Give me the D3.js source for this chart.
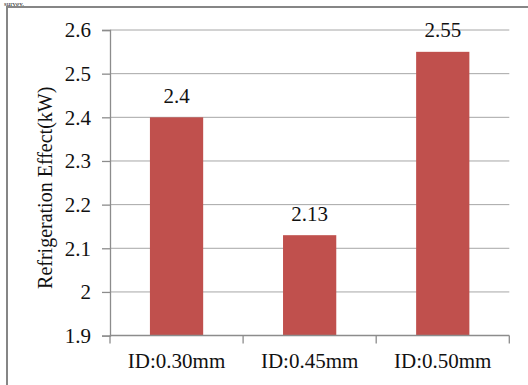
<!DOCTYPE html>
<html>
<head>
<meta charset="utf-8">
<script src="https://cdn.jsdelivr.net/npm/d3@7"></script>
<style>
  html, body { margin: 0; padding: 0; background: #fff; }
  svg { display: block; }
</style>
</head>
<body>
<script>
// Chart data
const categories = ["ID:0.30mm", "ID:0.45mm", "ID:0.50mm"];
const refrigerationEffect = [2.4, 2.13, 2.55];
const valueLabels = ["2.4", "2.13", "2.55"];
const yTicks = [1.9, 2, 2.1, 2.2, 2.3, 2.4, 2.5, 2.6];
const yAxisTitle = "Refrigeration Effect(kW)";

const SERIF = "'Liberation Serif', Tinos, 'Times New Roman', 'DejaVu Serif', serif";
const W = 528, H = 385;
const plot = { left: 110, right: 509.3, top: 30, bottom: 335.6 };

const svg = d3.select("body").append("svg")
  .attr("width", W).attr("height", H)
  .attr("font-family", SERIF)
  .style("font-family", SERIF);

// Trailing line of surrounding text above the frame
svg.append("text")
  .attr("x", 4).attr("y", 5.5)
  .attr("font-family", SERIF)
  .style("font-size", "7px")
  .attr("fill", "#222")
  .text("survey.");

// Chart frame
svg.append("rect")
  .attr("x", 7).attr("y", 7)
  .attr("width", W + 10).attr("height", H + 10)
  .attr("fill", "none")
  .attr("stroke", "#868686")
  .attr("stroke-width", 2);

const x = d3.scaleBand()
  .domain(categories)
  .range([plot.left, plot.right])
  .paddingInner(0.6)
  .paddingOuter(0.3);

const y = d3.scaleLinear()
  .domain([1.9, 2.6])
  .range([plot.bottom, plot.top]);

// Horizontal gridlines
svg.append("g")
  .selectAll("line")
  .data(yTicks.filter(t => t > 1.9))
  .join("line")
  .attr("x1", plot.left).attr("x2", plot.right)
  .attr("y1", d => y(d)).attr("y2", d => y(d))
  .attr("stroke", "#a6a6a6")
  .attr("stroke-width", 1);

// Bars
svg.append("g")
  .selectAll("rect")
  .data(refrigerationEffect)
  .join("rect")
  .attr("x", (d, i) => x(categories[i]))
  .attr("width", x.bandwidth())
  .attr("y", d => y(d))
  .attr("height", d => y(1.9) - y(d))
  .attr("fill", "#c0504d");

// Value labels
svg.append("g")
  .selectAll("text")
  .data(refrigerationEffect)
  .join("text")
  .attr("x", (d, i) => x(categories[i]) + x.bandwidth() / 2)
  .attr("y", d => y(d) - 14.5)
  .attr("text-anchor", "middle")
  .attr("font-family", SERIF)
  .style("font-size", "21px")
  .attr("fill", "#111")
  .text((d, i) => valueLabels[i]);

// Y axis
const yAxis = d3.axisLeft(y)
  .tickValues(yTicks)
  .tickSize(8)
  .tickPadding(11)
  .tickFormat(d => d3.format("")(+d.toFixed(1)));
const gy = svg.append("g")
  .attr("transform", `translate(${plot.left},0)`)
  .call(yAxis)
  .attr("font-family", SERIF)
  .attr("font-size", 21);
gy.select(".domain").attr("stroke", "#8c8c8c").attr("stroke-width", 1.3);
gy.selectAll(".tick line").attr("stroke", "#8c8c8c").attr("stroke-width", 1.3);
gy.selectAll(".tick text")
  .attr("font-family", SERIF)
  .attr("fill", "#111");

// X axis with ticks at category boundaries
const xEdge = d3.scaleLinear().domain([0, categories.length]).range([plot.left, plot.right]);
const gx = svg.append("g")
  .attr("transform", `translate(0,${plot.bottom})`);
gx.append("line")
  .attr("x1", plot.left).attr("x2", plot.right)
  .attr("stroke", "#8c8c8c").attr("stroke-width", 1.5);
gx.selectAll("line.tick")
  .data(d3.range(categories.length + 1))
  .join("line")
  .attr("class", "tick")
  .attr("x1", d => xEdge(d)).attr("x2", d => xEdge(d))
  .attr("y1", 0).attr("y2", 8)
  .attr("stroke", "#8c8c8c").attr("stroke-width", 1.3);
gx.selectAll("text")
  .data(categories)
  .join("text")
  .attr("x", d => x(d) + x.bandwidth() / 2)
  .attr("y", 32.7)
  .attr("text-anchor", "middle")
  .attr("font-family", SERIF)
  .style("font-size", "21px")
  .attr("fill", "#111")
  .text(d => d);

// Y axis title
svg.append("text")
  .attr("transform", `translate(52,${(plot.top + plot.bottom) / 2 + 5}) rotate(-90)`)
  .attr("text-anchor", "middle")
  .attr("font-family", SERIF)
  .style("font-size", "20px")
  .attr("fill", "#111")
  .text(yAxisTitle);
</script>
</body>
</html>
